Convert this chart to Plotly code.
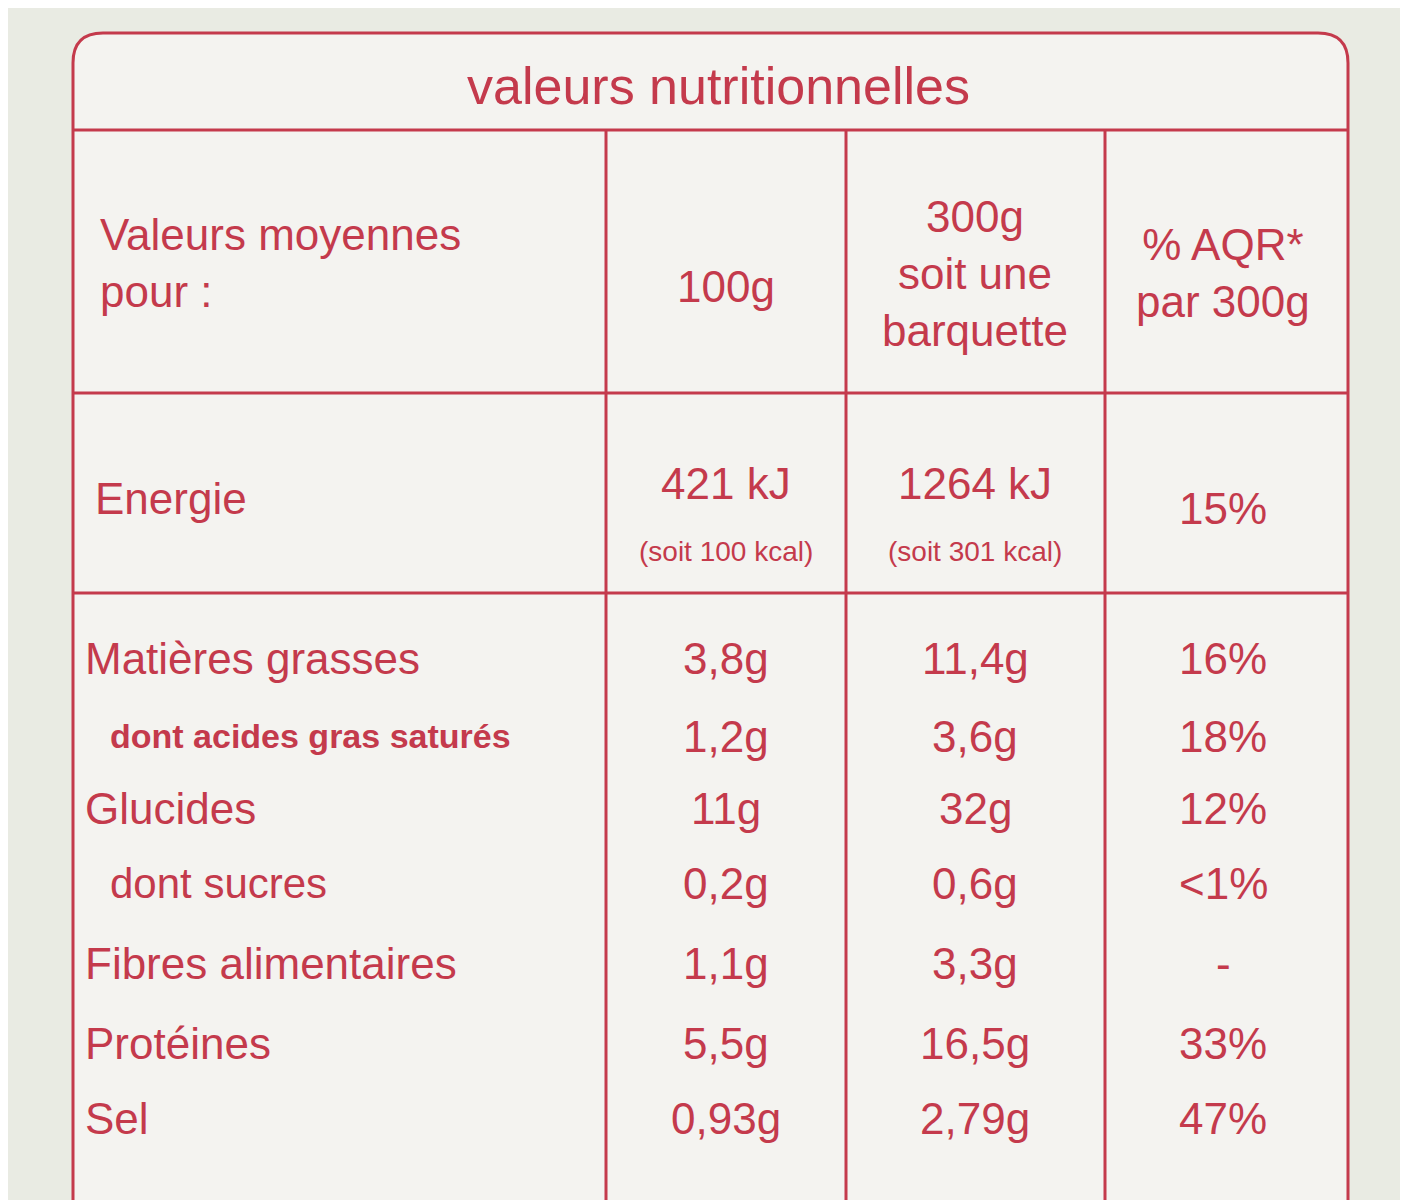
import plotly.graph_objects as go

title = "valeurs nutritionnelles"
header = ["Valeurs moyennes<br>pour :", "100g", "300g<br>soit une<br>barquette", "% AQR*<br>par 300g"]
energy = ["Energie", "421 kJ", "1264 kJ", "15%"]
energy_kcal = ["(soit 100 kcal)", "(soit 301 kcal)"]
nutrients = ["Matières grasses", "dont acides gras saturés", "Glucides", "dont sucres",
             "Fibres alimentaires", "Protéines", "Sel"]
indent = [False, True, False, True, False, False, False]
per_100g = ["3,8g", "1,2g", "11g", "0,2g", "1,1g", "5,5g", "0,93g"]
per_300g = ["11,4g", "3,6g", "32g", "0,6g", "3,3g", "16,5g", "2,79g"]
pct_aqr = ["16%", "18%", "12%", "<1%", "-", "33%", "47%"]

RED = "#c43a4c"
FONT = "Liberation Sans"
col_x = [598, 838, 1097]
col_c = [718, 967, 1215]

fig = go.Figure()
fig.update_xaxes(range=[0, 1408], visible=False)
fig.update_yaxes(range=[1200, 0], visible=False)

shapes = []
# outer rounded box, runs off the bottom edge like the photo
L, T, R, B = 65, 25, 1340, 1230
r = 30
shapes.append(dict(type="path", xref="x", yref="y",
                   path=f"M {L+r},{T} L {R-r},{T} Q {R},{T} {R},{T+r} L {R},{B} L {L},{B} L {L},{T+r} Q {L},{T} {L+r},{T} Z",
                   line=dict(color=RED, width=3), fillcolor="#f4f3f0"))
for y in [122, 385, 585]:
    shapes.append(dict(type="line", x0=L, x1=R, y0=y, y1=y, line=dict(color=RED, width=3)))
for x in col_x:
    shapes.append(dict(type="line", x0=x, x1=x, y0=122, y1=B, line=dict(color=RED, width=3)))

ann = []
def txt(x, y, s, size, anchor="center"):
    ann.append(dict(x=x, y=y, text=s, showarrow=False, xanchor=anchor, yanchor="middle",
                    align=anchor if anchor != "center" else "center",
                    font=dict(family=FONT, size=size, color=RED)))

txt(710, 78, title, 52)
txt(90, 255, header[0], 44, "left")
txt(col_c[0], 278, header[1], 44)
for i in range(2, 4):
    txt(col_c[i - 1], 265, header[i], 44)
txt(85, 490, energy[0], 44, "left")
for i in range(3):
    txt(col_c[i], 475 if i < 2 else 500, energy[i + 1], 44)
for i in range(2):
    txt(col_c[i], 543, energy_kcal[i], 28)

row_y = [650, 728, 800, 875, 955, 1035, 1110]
for i, name in enumerate(nutrients):
    y = row_y[i]
    if indent[i]:
        txt(100, y, "<b>" + name + "</b>" if i == 1 else name, 34 if i == 1 else 42, "left")
    else:
        txt(75, y, name, 44, "left")
    txt(col_c[0], y, per_100g[i], 44)
    txt(col_c[1], y, per_300g[i], 44)
    txt(col_c[2], y, pct_aqr[i], 44)

fig.update_layout(width=1408, height=1200, margin=dict(l=0, r=0, t=0, b=0),
                  paper_bgcolor="#e9ebe3", plot_bgcolor="#e9ebe3",
                  shapes=shapes, annotations=ann, showlegend=False)
fig.write_html("out.html")
